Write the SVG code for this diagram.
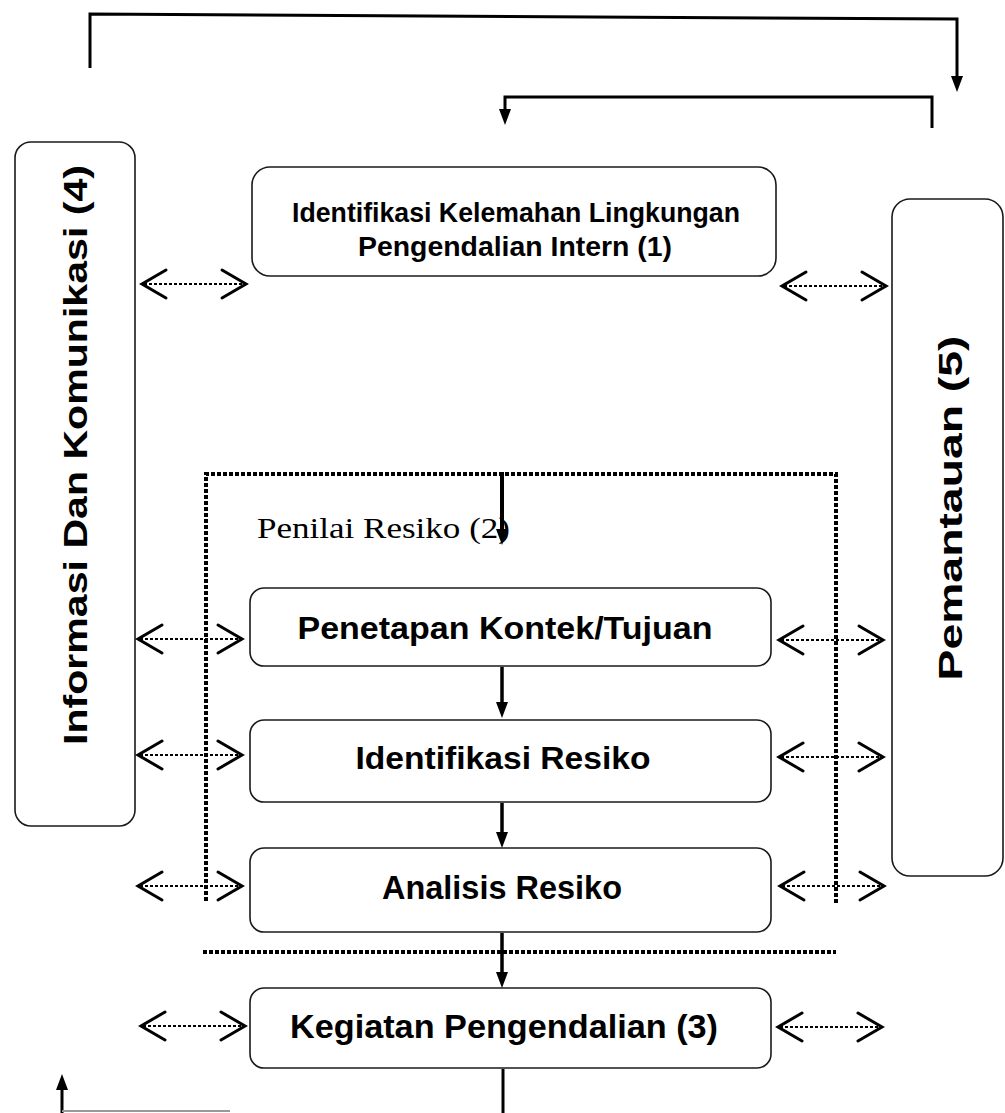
<svg xmlns="http://www.w3.org/2000/svg" width="1005" height="1113" viewBox="0 0 1005 1113">
<style>
.box{fill:#fff;stroke:#1a1a1a;stroke-width:1.6}
.t{font-family:"Liberation Sans",Arial,sans-serif;font-weight:bold;fill:#000}
.serif{font-family:"Liberation Serif","Times New Roman",serif;fill:#000}
.line{fill:none;stroke:#000;stroke-width:3}
.dots{fill:none;stroke:#000;stroke-width:4;stroke-dasharray:4 2}
.dshaft{fill:none;stroke:#000;stroke-width:2;stroke-dasharray:3 2}
.chev{fill:none;stroke:#000;stroke-width:3;stroke-linecap:round;stroke-linejoin:miter}
</style>
<defs>
<marker id="ah" viewBox="0 0 16 12" markerWidth="16" markerHeight="12" refX="4" refY="6" orient="auto" markerUnits="userSpaceOnUse">
<path d="M0,0 L16,6 L0,12 z" fill="#000"/>
</marker>
<g id="dbl">
<path class="dshaft" d="M3,0 H103"/>
<path class="chev" d="M25,-14 L1,0 L25,14"/>
<path class="chev" d="M81,-14 L105,0 L81,14"/>
</g>
</defs>
<rect width="1005" height="1113" fill="#fff"/>

<g id="penilai-region">
<path class="dots" d="M206,901 V474 H836 V903"/>
<path class="dots" d="M203,952 H836"/>
<text class="serif" x="257" y="538" font-size="30" textLength="253" lengthAdjust="spacingAndGlyphs">Penilai Resiko (2)</text>
</g>

<g id="node-informasi">
<rect class="box" x="15" y="142" width="120" height="684" rx="16"/>
<text class="t" transform="translate(75,455) rotate(-90)" x="0" y="12" font-size="33" text-anchor="middle" textLength="580" lengthAdjust="spacingAndGlyphs">Informasi Dan Komunikasi  (4)</text>
</g>

<g id="node-identifikasi-kelemahan">
<rect class="box" x="252" y="167" width="524" height="109" rx="18"/>
<text class="t" x="516" y="222" font-size="27" text-anchor="middle" textLength="448" lengthAdjust="spacingAndGlyphs">Identifikasi Kelemahan Lingkungan</text>
<text class="t" x="515" y="256" font-size="27" text-anchor="middle" textLength="314" lengthAdjust="spacingAndGlyphs">Pengendalian Intern (1)</text>
</g>

<g id="node-pemantauan">
<rect class="box" x="892" y="199" width="111" height="677" rx="18"/>
<text class="t" transform="translate(950,508) rotate(-90)" x="0" y="12" font-size="33" text-anchor="middle" textLength="345" lengthAdjust="spacingAndGlyphs">Pemantauan (5)</text>
</g>

<g id="node-penetapan">
<rect class="box" x="250" y="588" width="521" height="78" rx="14"/>
<text class="t" x="505" y="639" font-size="32" text-anchor="middle" textLength="415" lengthAdjust="spacingAndGlyphs">Penetapan Kontek/Tujuan</text>
</g>

<g id="node-identifikasi-resiko">
<rect class="box" x="250" y="720" width="521" height="82" rx="14"/>
<text class="t" x="503" y="769" font-size="32" text-anchor="middle" textLength="295" lengthAdjust="spacingAndGlyphs">Identifikasi Resiko</text>
</g>

<g id="node-analisis">
<rect class="box" x="250" y="848" width="521" height="84" rx="14"/>
<text class="t" x="502" y="899" font-size="33" text-anchor="middle" textLength="240" lengthAdjust="spacingAndGlyphs">Analisis Resiko</text>
</g>

<g id="node-kegiatan">
<rect class="box" x="250" y="988" width="521" height="80" rx="14"/>
<text class="t" x="504" y="1038" font-size="34" text-anchor="middle" textLength="428" lengthAdjust="spacingAndGlyphs">Kegiatan Pengendalian (3)</text>
</g>

<g id="connectors">
<path class="line" d="M90,68 V14 L957,19 V80" marker-end="url(#ah)"/>
<path class="line" d="M932,128 V97 H505 V113" marker-end="url(#ah)"/>
<path class="line" style="stroke-width:4" d="M502,472 V533" marker-end="url(#ah)"/>
<path class="line" style="stroke-width:3.5" d="M502,667 V706" marker-end="url(#ah)"/>
<path class="line" style="stroke-width:3.5" d="M502,803 V836" marker-end="url(#ah)"/>
<path class="line" style="stroke-width:3.5" d="M502,933 V976" marker-end="url(#ah)"/>
<path class="line" d="M503,1069 V1113"/>
<path class="line" d="M62,1113 V1086" marker-end="url(#ah)"/>
<path fill="none" stroke="#999" stroke-width="2" d="M62,1111 H230"/>
<use href="#dbl" transform="translate(141,284)"/>
<use href="#dbl" transform="translate(781,286)"/>
<use href="#dbl" transform="translate(137,639)"/>
<use href="#dbl" transform="translate(778,640)"/>
<use href="#dbl" transform="translate(137,755)"/>
<use href="#dbl" transform="translate(778,757)"/>
<use href="#dbl" transform="translate(137,886)"/>
<use href="#dbl" transform="translate(779,886)"/>
<use href="#dbl" transform="translate(140,1026)"/>
<use href="#dbl" transform="translate(777,1027)"/>
</g>
</svg>
